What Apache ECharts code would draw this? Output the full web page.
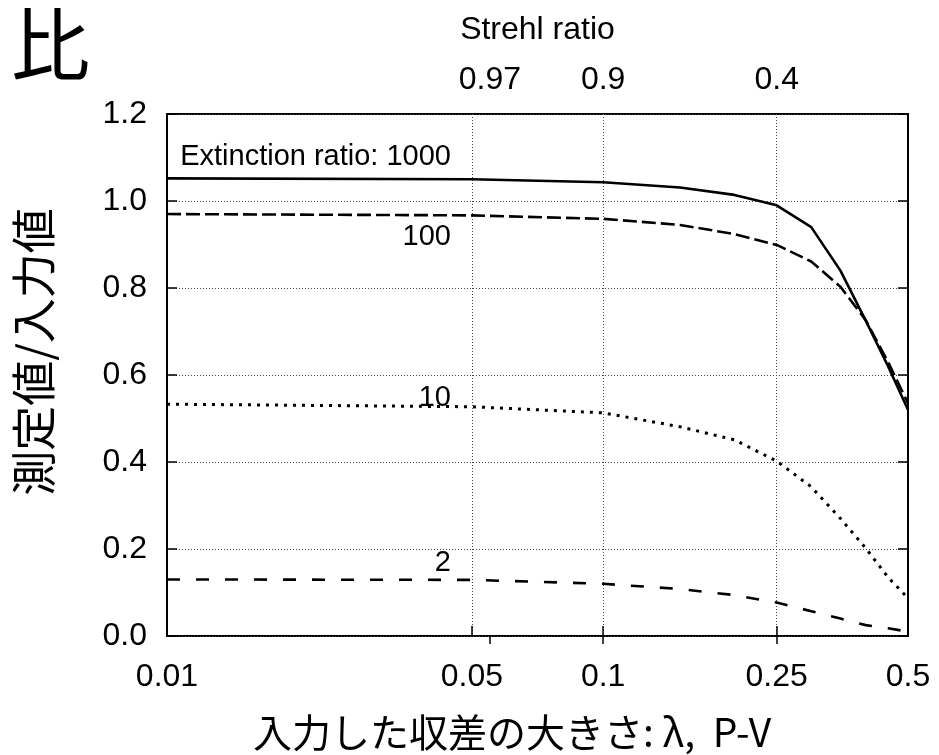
<!DOCTYPE html>
<html>
<head>
<meta charset="utf-8">
<script src="https://cdn.jsdelivr.net/npm/echarts@6/dist/echarts.min.js"></script>
<style>
  html, body { margin: 0; padding: 0; background: #fff; }
  #chart { width: 939px; height: 755px; }
</style>
</head>
<body>
<div id="chart"></div>
<script>
// Input aberration (λ, P-V) at which each curve was evaluated
const aberration = [0.01, 0.05, 0.1, 0.15, 0.2, 0.25, 0.3, 0.35, 0.4, 0.45, 0.5];
// Measured / input value for each extinction ratio
const ratio1000 = [1.052, 1.050, 1.043, 1.031, 1.014, 0.990, 0.940, 0.840, 0.725, 0.620, 0.520];
const ratio100  = [0.970, 0.967, 0.959, 0.945, 0.924, 0.899, 0.861, 0.803, 0.726, 0.630, 0.535];
const ratio10   = [0.533, 0.527, 0.513, 0.481, 0.451, 0.402, 0.343, 0.270, 0.202, 0.135, 0.087];
const ratio2    = [0.130, 0.129, 0.120, 0.108, 0.094, 0.077, 0.057, 0.040, 0.025, 0.018, 0.010];

// Bottom axis ticks and labels
const xLabelValues = [0.01, 0.05, 0.1, 0.25, 0.5];
const xTickValues = [0.05, 0.1, 0.25];
// Top axis: Strehl ratio reached at a given aberration
const strehlAt = [0.055, 0.1, 0.25];
const strehlLabels = ['0.97', '0.9', '0.4'];

const LATIN = "'Liberation Sans', Helvetica, Arial, sans-serif";
const CJK = "'Noto Sans CJK JP', 'Noto Sans', sans-serif";

const lg = v => Math.log10(v);
const X_MIN = lg(0.01), X_MAX = lg(0.5);

function pairs(ys) {
  return aberration.map((x, i) => [lg(x), ys[i]]);
}
function nearestIndex(arr, v) {
  let best = 0;
  arr.forEach((a, i) => { if (Math.abs(lg(a) - v) < Math.abs(lg(arr[best]) - v)) best = i; });
  return best;
}

const chart = echarts.init(document.getElementById('chart'), null, { renderer: 'canvas' });

const gridLine = { show: true, lineStyle: { color: '#444', width: 1, type: [1, 2] } };
const tickStyle = { color: '#000', width: 1.5 };

chart.setOption({
  animation: false,
  backgroundColor: '#fff',
  grid: {
    left: 167, right: 31, top: 114, bottom: 119,
    outerBoundsMode: 'none',
    show: true, borderColor: '#000', borderWidth: 2, backgroundColor: 'transparent'
  },
  xAxis: [
    {
      type: 'value', position: 'bottom', min: X_MIN, max: X_MAX,
      axisLine: { show: false },
      axisTick: { show: true, inside: true, length: 10, lineStyle: tickStyle,
                  customValues: xTickValues.map(lg) },
      axisLabel: {
        customValues: xLabelValues.map(lg),
        formatter: v => String(xLabelValues[nearestIndex(xLabelValues, v)]),
        margin: 25, color: '#000', fontSize: 32, fontFamily: LATIN
      },
      splitLine: gridLine
    },
    {
      type: 'value', position: 'top', min: X_MIN, max: X_MAX,
      name: 'Strehl ratio', nameLocation: 'middle', nameGap: 68, nameMoveOverlap: false,
      nameTextStyle: { color: '#000', fontSize: 32, fontFamily: LATIN },
      axisLine: { show: false },
      axisTick: { show: true, inside: true, length: 8, lineStyle: tickStyle,
                  customValues: strehlAt.map(lg) },
      axisLabel: {
        customValues: strehlAt.map(lg),
        formatter: v => strehlLabels[nearestIndex(strehlAt, v)],
        margin: 18, color: '#000', fontSize: 32, fontFamily: LATIN
      },
      splitLine: { show: false }
    }
  ],
  yAxis: [
    {
      type: 'value', position: 'left', min: 0, max: 1.2, interval: 0.2,
      axisLine: { show: false },
      axisTick: { show: true, inside: true, length: 10, lineStyle: tickStyle },
      axisLabel: { formatter: v => v.toFixed(1), margin: 20, color: '#000',
                   fontSize: 32, fontFamily: LATIN, showMinLabel: true, showMaxLabel: true },
      splitLine: gridLine
    },
    {
      type: 'value', position: 'right', min: 0, max: 1.2, interval: 0.2,
      axisLine: { show: false },
      axisTick: { show: true, inside: true, length: 10, lineStyle: tickStyle },
      axisLabel: { show: false },
      splitLine: { show: false }
    }
  ],
  series: [
    { name: '1000', type: 'line', data: pairs(ratio1000), symbol: 'none', silent: true,
      lineStyle: { color: '#000', width: 2.6, type: 'solid' } },
    { name: '100', type: 'line', data: pairs(ratio100), symbol: 'none', silent: true,
      lineStyle: { color: '#000', width: 2.6, type: [14, 5] } },
    { name: '10', type: 'line', data: pairs(ratio10), symbol: 'none', silent: true,
      lineStyle: { color: '#000', width: 3, type: [3, 6] } },
    { name: '2', type: 'line', data: pairs(ratio2), symbol: 'none', silent: true,
      lineStyle: { color: '#000', width: 2.6, type: [13, 16] } }
  ],
  graphic: [
    { type: 'text', left: 11, top: 5, silent: true,
      style: { text: '比', fill: '#000', font: "79px " + CJK } },
    { type: 'text', x: 34, y: 352, rotation: Math.PI / 2, silent: true,
      style: { text: '測定値/入力値', fill: '#000', font: "45px " + CJK,
               align: 'center', verticalAlign: 'middle' } },
    { type: 'text', x: 512, y: 732, silent: true,
      style: { text: '入力した収差の大きさ: λ,  P-V', fill: '#000', font: "39px " + CJK,
               align: 'center', verticalAlign: 'middle' } },
    { type: 'text', x: 451, y: 157, silent: true,
      style: { text: 'Extinction ratio: 1000', fill: '#000', font: "29px " + LATIN,
               align: 'right', verticalAlign: 'middle' } },
    { type: 'text', x: 451, y: 237, silent: true,
      style: { text: '100', fill: '#000', font: "29px " + LATIN,
               align: 'right', verticalAlign: 'middle' } },
    { type: 'text', x: 451, y: 398, silent: true,
      style: { text: '10', fill: '#000', font: "29px " + LATIN,
               align: 'right', verticalAlign: 'middle' } },
    { type: 'text', x: 451, y: 563, silent: true,
      style: { text: '2', fill: '#000', font: "29px " + LATIN,
               align: 'right', verticalAlign: 'middle' } }
  ]
});
</script>
</body>
</html>
